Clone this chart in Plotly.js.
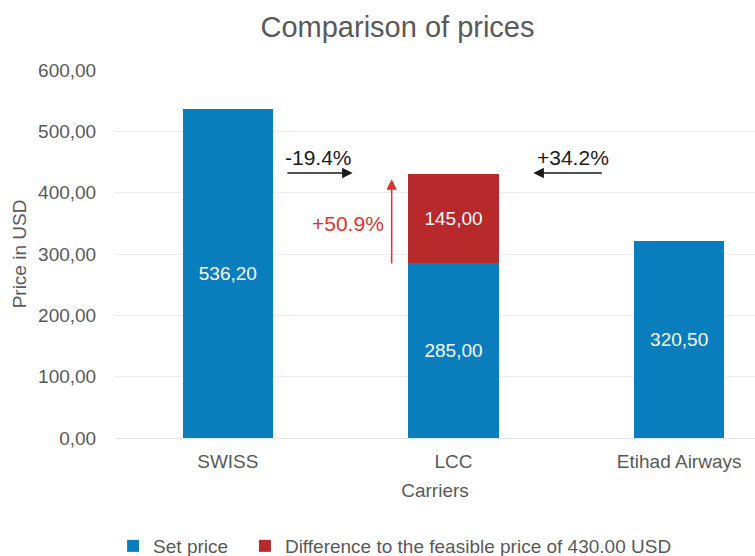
<!DOCTYPE html>
<html>
<head>
<meta charset="utf-8">
<script src="https://cdn.plot.ly/plotly-3.0.1.min.js"></script>
<style>html,body{margin:0;padding:0;background:#fff;overflow:hidden;width:755px;height:556px;}#chart{width:755px;height:572px;}</style>
</head>
<body>
<div id="chart"></div>
<script>
const categories = ['SWISS', 'LCC', 'Etihad Airways'];
const setPrice = [536.20, 285.00, 320.50];
const difference = [null, 145.00, null];
const yTicks = [0, 100, 200, 300, 400, 500, 600];
const changeLabels = ['-19.4%', '+34.2%', '+50.9%'];

const fmt = v => (v == null ? '' : v.toFixed(2).replace('.', ','));
const FONT = 'Liberation Sans, Arial, sans-serif';
const BLUE = '#0a7dbd';
const RED = '#b8292b';
const GREY = '#595959';

const traces = [
  {
    type: 'bar', name: 'Set price', x: categories, y: setPrice, legend: 'legend',
    marker: {color: BLUE}, text: setPrice.map(fmt), textposition: 'inside',
    insidetextanchor: 'middle', textfont: {color: '#ffffff', size: 19, family: FONT},
    hoverinfo: 'none'
  },
  {
    type: 'bar', name: 'Difference to the feasible price of 430.00 USD', x: categories, y: difference,
    legend: 'legend2',
    marker: {color: RED}, text: difference.map(fmt), textposition: 'inside',
    insidetextanchor: 'middle', textfont: {color: '#ffffff', size: 19, family: FONT},
    hoverinfo: 'none'
  }
];

const arrowCommon = {axref: 'x', ayref: 'y', xref: 'x', yref: 'y', text: '', showarrow: true,
  arrowhead: 2, arrowsize: 1.4, arrowwidth: 1.5};

const H = 572, T = 70, B = H - 438;
const legY = (438 - 546) / (438 - T);

const layout = {
  width: 755, height: H,
  margin: {l: 115, r: 0, t: T, b: B},
  paper_bgcolor: '#ffffff', plot_bgcolor: '#ffffff',
  font: {family: FONT, color: GREY, size: 19},
  title: {text: 'Comparison of prices', x: 0.5265, xanchor: 'center', y: 1 - 27 / H, yanchor: 'middle',
    font: {size: 29, color: GREY, family: FONT}},
  barmode: 'stack', bargap: 0.6,
  showlegend: true,
  legend: {orientation: 'h', x: -0.003, xanchor: 'left', y: legY, yanchor: 'middle',
    font: {size: 19, color: GREY}, bgcolor: 'rgba(0,0,0,0)'},
  legend2: {orientation: 'h', x: 0.203, xanchor: 'left', y: legY, yanchor: 'middle',
    font: {size: 19, color: GREY}, bgcolor: 'rgba(0,0,0,0)'},
  xaxis: {
    type: 'category', range: [-0.5, 2.336], showgrid: false, zeroline: false, showline: false,
    ticks: 'outside', ticklen: 6, tickcolor: 'rgba(0,0,0,0)',
    tickfont: {size: 19, color: GREY},
    title: {text: 'Carriers', font: {size: 19, color: GREY}, standoff: 12}
  },
  yaxis: {
    range: [0, 600], tickvals: yTicks, ticktext: yTicks.map(fmt),
    showgrid: true, gridcolor: '#ededed', gridwidth: 1, zeroline: true, zerolinecolor: '#e6e6e6',
    showline: false, ticks: 'outside', ticklen: 14, tickcolor: 'rgba(0,0,0,0)',
    tickfont: {size: 19, color: GREY},
    title: {text: 'Price in USD', font: {size: 19, color: GREY}, standoff: 6}
  },
  annotations: [
    {x: 0.403, y: 458, xref: 'x', yref: 'y', text: changeLabels[0], showarrow: false,
      font: {size: 21, color: '#1a1a1a'}},
    {x: 1.531, y: 458, xref: 'x', yref: 'y', text: changeLabels[1], showarrow: false,
      font: {size: 21, color: '#1a1a1a'}},
    {x: 0.533, y: 349, xref: 'x', yref: 'y', text: changeLabels[2], showarrow: false,
      font: {size: 21, color: '#d6362e'}},
    Object.assign({}, arrowCommon, {x: 0.553, y: 432, ax: 0.257, ay: 432, arrowcolor: '#1a1a1a'}),
    Object.assign({}, arrowCommon, {x: 1.354, y: 432, ax: 1.664, ay: 432, arrowcolor: '#1a1a1a'}),
    Object.assign({}, arrowCommon, {x: 0.726, y: 422, ax: 0.726, ay: 282, arrowcolor: '#d6362e'})
  ]
};

Plotly.newPlot('chart', traces, layout, {displayModeBar: false, staticPlot: true});
</script>
</body>
</html>
